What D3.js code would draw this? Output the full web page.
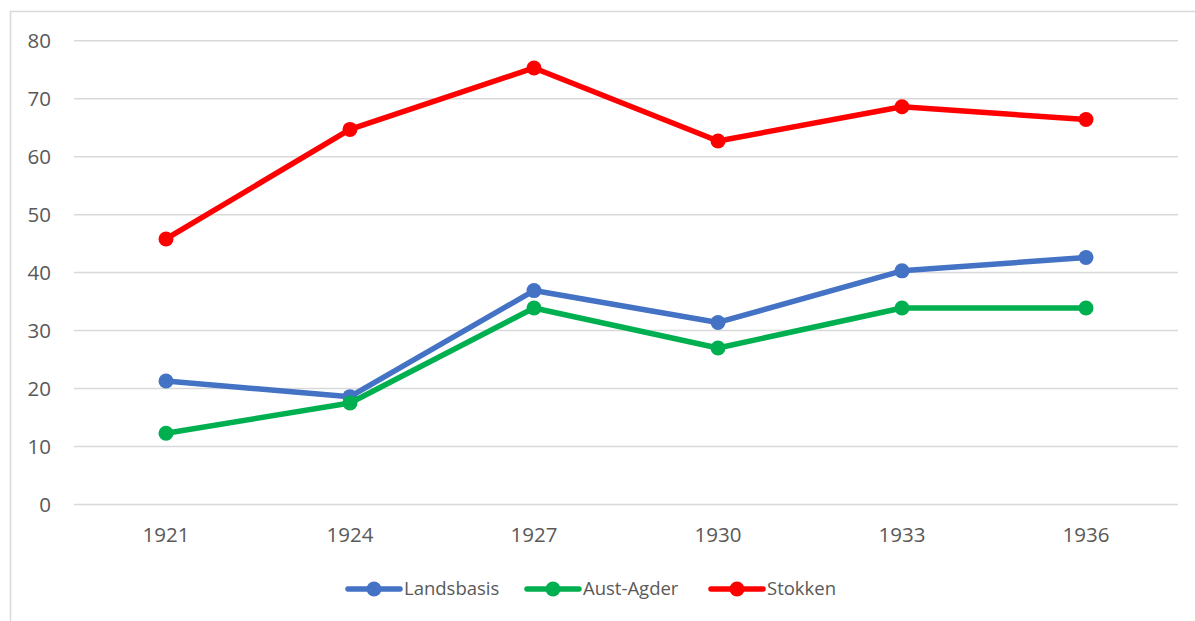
<!DOCTYPE html>
<html>
<head>
<meta charset="utf-8">
<script src="https://cdn.jsdelivr.net/npm/d3@7"></script>
<style>
  html, body { margin: 0; padding: 0; background: #fff; }
  svg { display: block; }
</style>
</head>
<body>
<svg id="chart" width="1195" height="621"></svg>
<script>
const years = ["1921", "1924", "1927", "1930", "1933", "1936"];
const landsbasis = [21.3, 18.6, 36.9, 31.4, 40.3, 42.6];
const austAgder = [12.3, 17.5, 33.9, 27.0, 33.9, 33.9];
const stokken = [45.8, 64.7, 75.3, 62.7, 68.6, 66.4];
const yTicks = [0, 10, 20, 30, 40, 50, 60, 70, 80];
const seriesNames = ["Landsbasis", "Aust-Agder", "Stokken"];
const seriesColors = ["#4472C4", "#00B050", "#FF0000"];

const series = [landsbasis, austAgder, stokken].map((vals, i) => ({
  name: seriesNames[i], color: seriesColors[i], values: vals
}));

const svg = d3.select("#chart");
const font = "'Open Sans', 'Liberation Sans', sans-serif";
const textColor = "#595959";

// frame
svg.append("rect").attr("x", 10.5).attr("y", 11.5).attr("width", 1300).attr("height", 700)
  .attr("fill", "none").attr("stroke", "#d9d9d9").attr("stroke-width", 1.5);

const plotLeft = 74, plotRight = 1178;
const x = d3.scaleBand().domain(years).range([plotLeft, plotRight]);
const y = d3.scaleLinear().domain([0, 80]).range([504.5, 40.7]);

// gridlines
svg.append("g").selectAll("line").data(yTicks).join("line")
  .attr("x1", plotLeft).attr("x2", plotRight)
  .attr("y1", d => y(d)).attr("y2", d => y(d))
  .attr("stroke", "#d9d9d9").attr("stroke-width", 1.5);

// y axis labels
const yAxis = d3.axisLeft(y).tickValues(yTicks).tickSize(0).tickPadding(0);
const gy = svg.append("g").attr("transform", "translate(51,0)").call(yAxis);
gy.select(".domain").remove();
gy.selectAll("text").attr("font-family", font).attr("font-size", 20.5)
  .attr("fill", textColor).attr("dy", "0.35em");

// x axis labels
const xAxis = d3.axisBottom(x).tickSize(0).tickPadding(0);
const gx = svg.append("g").attr("transform", "translate(0,535)").call(xAxis);
gx.select(".domain").remove();
gx.selectAll("text").attr("font-family", font).attr("font-size", 20.5)
  .attr("fill", textColor).attr("dy", "0.35em");

const cx = d => x(d) + x.bandwidth() / 2;
const line = d3.line().x((d, i) => cx(years[i])).y(d => y(d));

const gs = svg.append("g").selectAll("g").data(series).join("g");
gs.append("path")
  .attr("d", d => line(d.values))
  .attr("fill", "none").attr("stroke", d => d.color)
  .attr("stroke-width", 5.5).attr("stroke-linejoin", "round").attr("stroke-linecap", "round");
gs.selectAll("circle").data(d => d.values.map((v, i) => ({v, i, color: d.color}))).join("circle")
  .attr("cx", d => cx(years[d.i])).attr("cy", d => y(d.v))
  .attr("r", 7.5).attr("fill", d => d.color);

// legend
const legendX = [348, 527, 711];
const lg = svg.append("g").selectAll("g").data(series).join("g")
  .attr("transform", (d, i) => `translate(${legendX[i]},589)`);
lg.append("line").attr("x1", 0).attr("x2", 52).attr("y1", 0).attr("y2", 0)
  .attr("stroke", d => d.color).attr("stroke-width", 5.5).attr("stroke-linecap", "round");
lg.append("circle").attr("cx", 26).attr("cy", 0).attr("r", 7.5).attr("fill", d => d.color);
lg.append("text").attr("x", 56).attr("y", 0).attr("dy", "0.35em")
  .attr("font-family", font).attr("font-size", 18.5).attr("fill", textColor)
  .text(d => d.name);
</script>
</body>
</html>
